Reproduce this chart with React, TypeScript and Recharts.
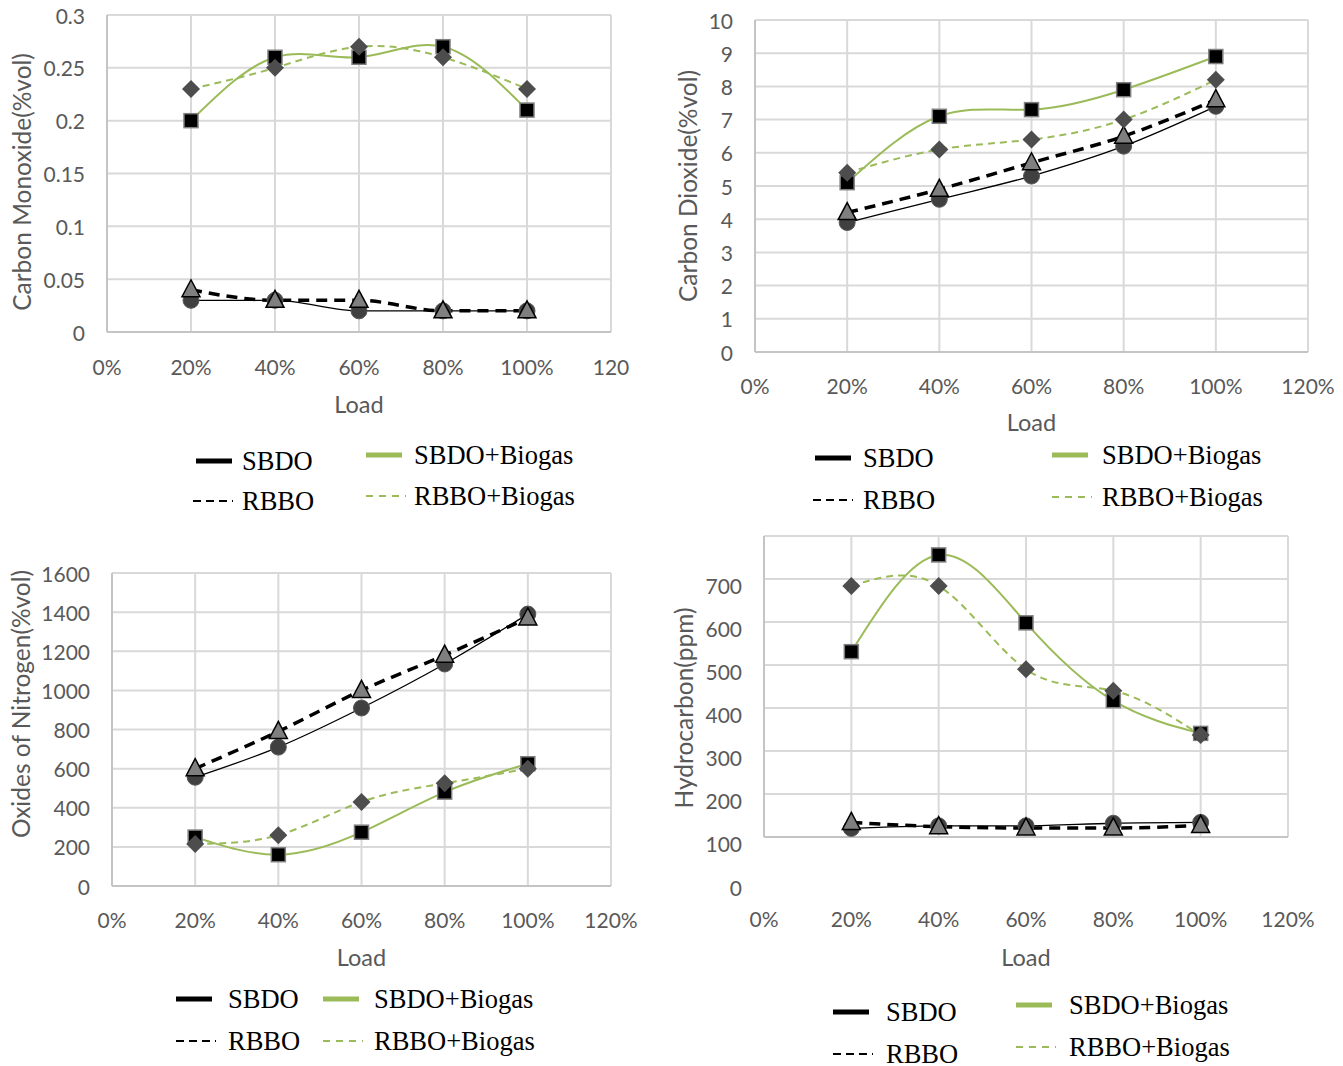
import React from "react";
import { ComposedChart, Line, XAxis, YAxis, CartesianGrid } from "recharts";

// load points (% of full load) shared by all four panels
const loads = [20, 40, 60, 80, 100];
const loadTicks = [0, 20, 40, 60, 80, 100, 120];
const coLoadLabels = ["0%", "20%", "40%", "60%", "80%", "100%", "120"];
const loadLabels = ["0%", "20%", "40%", "60%", "80%", "100%", "120%"];

// carbon monoxide (%vol)
const coSBDO = [0.03, 0.03, 0.02, 0.02, 0.02];
const coRBBO = [0.04, 0.03, 0.03, 0.02, 0.02];
const coSBDOBiogas = [0.2, 0.26, 0.26, 0.27, 0.21];
const coRBBOBiogas = [0.23, 0.25, 0.27, 0.26, 0.23];
const coTicks = [0, 0.05, 0.1, 0.15, 0.2, 0.25, 0.3];

// carbon dioxide (%vol)
const co2SBDO = [3.9, 4.6, 5.3, 6.2, 7.4];
const co2RBBO = [4.2, 4.9, 5.7, 6.5, 7.6];
const co2SBDOBiogas = [5.1, 7.1, 7.3, 7.9, 8.9];
const co2RBBOBiogas = [5.4, 6.1, 6.4, 7.0, 8.2];
const co2Ticks = [0, 1, 2, 3, 4, 5, 6, 7, 8, 9, 10];

// oxides of nitrogen
const noxSBDO = [556, 710, 910, 1135, 1390];
const noxRBBO = [600, 790, 1000, 1180, 1370];
const noxSBDOBiogas = [250, 160, 275, 480, 625];
const noxRBBOBiogas = [215, 260, 430, 525, 600];
const noxTicks = [0, 200, 400, 600, 800, 1000, 1200, 1400, 1600];

// hydrocarbon (ppm)
const hcSBDO = [120, 126, 126, 132, 134];
const hcRBBO = [134, 124, 121, 121, 127];
const hcSBDOBiogas = [531, 756, 598, 417, 341];
const hcRBBOBiogas = [684, 684, 490, 440, 337];
const hcTicks = [100, 200, 300, 400, 500, 600, 700, 800];

const GREEN = "#9BBB59";
const TICK_FONT = "Lato, 'Open Sans', sans-serif";
const LEGEND_FONT = "'Liberation Serif', 'Times New Roman', serif";

const seriesDefs = [
  { key: "sbdo", name: "SBDO", stroke: "#000", width: 1.3, dash: undefined, curve: "monotone", shape: "circle" },
  { key: "rbbo", name: "RBBO", stroke: "#000", width: 3.5, dash: "11 7", curve: "monotone", shape: "triangle" },
  { key: "sbdoBiogas", name: "SBDO+Biogas", stroke: GREEN, width: 2, dash: undefined, curve: "natural", shape: "square" },
  { key: "rbboBiogas", name: "RBBO+Biogas", stroke: GREEN, width: 2, dash: "7 5", curve: "natural", shape: "diamond" },
];

function rows(a: number[], b: number[], c: number[], d: number[]) {
  return loads.map((load, i) => ({ load, sbdo: a[i], rbbo: b[i], sbdoBiogas: c[i], rbboBiogas: d[i] }));
}

function Marker({ cx, cy, shape }: { cx: number; cy: number; shape: string }) {
  if (cx == null || cy == null) return null;
  if (shape === "circle")
    return <circle cx={cx} cy={cy} r={8} fill="#404040" stroke="#585858" strokeWidth={1} />;
  if (shape === "triangle")
    return (
      <polygon
        points={`${cx},${cy - 10} ${cx - 9},${cy + 7} ${cx + 9},${cy + 7}`}
        fill="#7f7f7f"
        stroke="#000"
        strokeWidth={1.5}
      />
    );
  if (shape === "square")
    return <rect x={cx - 7} y={cy - 7} width={14} height={14} fill="#000" stroke="#7f7f7f" strokeWidth={1.5} />;
  return (
    <polygon
      points={`${cx},${cy - 9} ${cx + 9},${cy} ${cx},${cy + 9} ${cx - 9},${cy}`}
      fill="#4d4d4d"
    />
  );
}

function XTick(props: any) {
  const { x, y, payload, labels, dy } = props;
  const i = loadTicks.indexOf(payload.value);
  return (
    <text x={x} y={y + dy} textAnchor="middle" dominantBaseline="central" fontFamily={TICK_FONT} fontSize={21} fill="#595959">
      {labels[i]}
    </text>
  );
}

function YTick(props: any) {
  const { x, y, payload, dy, hideTop, top, strayZero } = props;
  if (hideTop && payload.value === top) return null;
  return (
    <g>
      <text x={x - 22} y={y + dy} textAnchor="end" dominantBaseline="central" fontFamily={TICK_FONT} fontSize={21} fill="#595959">
        {String(payload.value)}
      </text>
      {strayZero && payload.value === 100 ? (
        <text x={x - 22} y={y + 50} textAnchor="end" dominantBaseline="central" fontFamily={TICK_FONT} fontSize={21} fill="#595959">
          0
        </text>
      ) : null}
    </g>
  );
}

type LegendPos = { x: number; y: number; gap: number };

function LegendItem({ def, pos }: { def: any; pos: LegendPos }) {
  const thick = !def.dash;
  return (
    <div
      style={{
        position: "absolute",
        left: pos.x,
        top: pos.y - 20,
        height: 40,
        display: "flex",
        alignItems: "center",
        whiteSpace: "nowrap",
      }}
    >
      <svg width={40} height={10} style={{ display: "block" }}>
        <line
          x1={0}
          y1={5}
          x2={thick ? 36 : 40}
          y2={5}
          stroke={def.stroke}
          strokeWidth={thick ? 5 : 2}
          strokeDasharray={thick ? undefined : def.stroke === GREEN ? "7 6" : "8 5"}
        />
      </svg>
      <span style={{ marginLeft: pos.gap - 40, fontFamily: LEGEND_FONT, fontSize: 26.5, color: "#000" }}>{def.name}</span>
    </div>
  );
}

type PanelCfg = {
  left: number;
  top: number;
  width: number;
  height: number;
  mTop: number;
  mRight: number;
  yWidth: number;
  xHeight: number;
  data: any[];
  yDomain: [number, number];
  yTicks: number[];
  xLabels: string[];
  yTitle: string;
  yTitleX: number;
  yTitleY: number;
  xTitleY: number;
  xTickDy: number;
  yTickDy: number;
  hideTop?: boolean;
  strayZero?: boolean;
  legend: LegendPos[];
};

function Panel({ cfg }: { cfg: PanelCfg }) {
  const plotLeft = cfg.left + cfg.yWidth;
  const plotRight = cfg.left + cfg.width - cfg.mRight;
  return (
    <>
      <div style={{ position: "absolute", left: cfg.left, top: cfg.top }}>
        <ComposedChart
          width={cfg.width}
          height={cfg.height}
          data={cfg.data}
          margin={{ top: cfg.mTop, right: cfg.mRight, bottom: 0, left: 0 }}
        >
          <CartesianGrid stroke="#d9d9d9" strokeWidth={2} />
          <XAxis
            type="number"
            dataKey="load"
            domain={[0, 120]}
            ticks={loadTicks}
            interval={0}
            height={cfg.xHeight}
            tickSize={0}
            tickMargin={0}
            tickLine={false}
            axisLine={{ stroke: "#c4c4c4", strokeWidth: 2 }}
            tick={(p: any) => <XTick {...p} labels={cfg.xLabels} dy={cfg.xTickDy} />}
          />
          <YAxis
            type="number"
            domain={cfg.yDomain}
            ticks={cfg.yTicks}
            interval={0}
            width={cfg.yWidth}
            tickSize={0}
            tickMargin={0}
            tickLine={false}
            axisLine={{ stroke: "#c4c4c4", strokeWidth: 2 }}
            allowDataOverflow
            tick={(p: any) => (
              <YTick
                {...p}
                dy={cfg.yTickDy}
                hideTop={cfg.hideTop}
                top={cfg.yDomain[1]}
                strayZero={cfg.strayZero}
              />
            )}
          />
          {seriesDefs.map((s) => (
            <Line
              key={s.key}
              dataKey={s.key}
              name={s.name}
              type={s.curve as any}
              stroke={s.stroke}
              strokeWidth={s.width}
              strokeDasharray={s.dash}
              isAnimationActive={false}
              activeDot={false}
              dot={(p: any) => <Marker key={`${s.key}-${p.index}`} cx={p.cx} cy={p.cy} shape={s.shape} />}
            />
          ))}
        </ComposedChart>
      </div>
      <div
        style={{
          position: "absolute",
          left: cfg.yTitleX,
          top: cfg.yTitleY,
          transform: "translate(-50%, -50%) rotate(-90deg)",
          fontFamily: TICK_FONT,
          fontSize: 24.5,
          color: "#595959",
          whiteSpace: "nowrap",
        }}
      >
        {cfg.yTitle}
      </div>
      <div
        style={{
          position: "absolute",
          left: (plotLeft + plotRight) / 2,
          top: cfg.xTitleY,
          transform: "translate(-50%, -50%)",
          fontFamily: TICK_FONT,
          fontSize: 23.5,
          color: "#595959",
        }}
      >
        Load
      </div>
      {seriesDefs.map((s, i) => (
        <LegendItem key={s.key} def={s} pos={cfg.legend[i]} />
      ))}
    </>
  );
}

const panels: PanelCfg[] = [
  {
    left: 0, top: 0, width: 640, height: 420, mTop: 15, mRight: 29, yWidth: 107, xHeight: 88,
    data: rows(coSBDO, coRBBO, coSBDOBiogas, coRBBOBiogas),
    yDomain: [0, 0.3], yTicks: coTicks, xLabels: coLoadLabels,
    yTitle: "Carbon Monoxide(%vol)", yTitleX: 21, yTitleY: 182, xTitleY: 404, xTickDy: 34, yTickDy: 0,
    legend: [
      { x: 196, y: 461, gap: 46 },
      { x: 193, y: 501, gap: 49 },
      { x: 366, y: 455, gap: 48 },
      { x: 366, y: 496, gap: 48 },
    ],
  },
  {
    left: 660, top: 0, width: 683, height: 440, mTop: 20, mRight: 35, yWidth: 95, xHeight: 88,
    data: rows(co2SBDO, co2RBBO, co2SBDOBiogas, co2RBBOBiogas),
    yDomain: [0, 10], yTicks: co2Ticks, xLabels: loadLabels,
    yTitle: "Carbon Dioxide(%vol)", yTitleX: 687, yTitleY: 186, xTitleY: 422, xTickDy: 33, yTickDy: 0,
    legend: [
      { x: 815, y: 458, gap: 48 },
      { x: 813, y: 500, gap: 50 },
      { x: 1052, y: 455, gap: 50 },
      { x: 1052, y: 497, gap: 50 },
    ],
  },
  {
    left: 0, top: 540, width: 640, height: 440, mTop: 33, mRight: 29, yWidth: 112, xHeight: 94,
    data: rows(noxSBDO, noxRBBO, noxSBDOBiogas, noxRBBOBiogas),
    yDomain: [0, 1600], yTicks: noxTicks, xLabels: loadLabels,
    yTitle: "Oxides of Nitrogen(%vol)", yTitleX: 20, yTitleY: 704, xTitleY: 957, xTickDy: 33, yTickDy: 0,
    legend: [
      { x: 176, y: 999, gap: 52 },
      { x: 176, y: 1041, gap: 52 },
      { x: 323, y: 999, gap: 51 },
      { x: 323, y: 1041, gap: 51 },
    ],
  },
  {
    left: 660, top: 520, width: 683, height: 460, mTop: 16, mRight: 55, yWidth: 104, xHeight: 143,
    data: rows(hcSBDO, hcRBBO, hcSBDOBiogas, hcRBBOBiogas),
    yDomain: [100, 800], yTicks: hcTicks, xLabels: loadLabels,
    yTitle: "Hydrocarbon(ppm)", yTitleX: 683, yTitleY: 708, xTitleY: 957, xTickDy: 81, yTickDy: 6,
    hideTop: true, strayZero: true,
    legend: [
      { x: 833, y: 1012, gap: 53 },
      { x: 833, y: 1054, gap: 53 },
      { x: 1016, y: 1005, gap: 53 },
      { x: 1016, y: 1047, gap: 53 },
    ],
  },
];

export default function App() {
  return (
    <div style={{ position: "absolute", left: 0, top: 0, width: 1343, height: 1066, background: "#fff" }}>
      {panels.map((p, i) => (
        <Panel key={i} cfg={p} />
      ))}
    </div>
  );
}
